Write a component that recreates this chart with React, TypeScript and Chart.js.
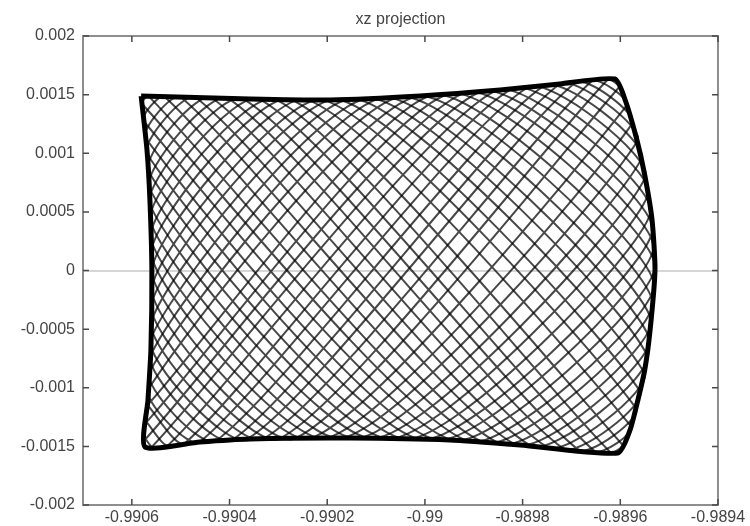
import React, { useEffect, useRef } from "react";
import { Chart, registerables } from "chart.js";

Chart.register(...registerables);

const chartTitle = "xz projection";

const xMin = -0.9907;
const xMax = -0.9894;
const yMin = -0.002;
const yMax = 0.002;

const xTickValues = [-0.9906, -0.9904, -0.9902, -0.99, -0.9898, -0.9896, -0.9894];
const xTickLabels = ["-0.9906", "-0.9904", "-0.9902", "-0.99", "-0.9898", "-0.9896", "-0.9894"];
const yTickValues = [-0.002, -0.0015, -0.001, -0.0005, 0, 0.0005, 0.001, 0.0015, 0.002];
const yTickLabels = ["-0.002", "-0.0015", "-0.001", "-0.0005", "0", "0.0005", "0.001", "0.0015", "0.002"];

// Trajectory turning points (three passes of the orbit)
const orbitAX = [-0.990570, -0.989951, -0.989529, -0.989944, -0.990576, -0.990533, -0.989847, -0.989537, -0.990048, -0.990564, -0.990428, -0.989756, -0.989557, -0.990137, -0.990562, -0.990339, -0.989653, -0.989578, -0.990242, -0.990559, -0.990234, -0.989587, -0.989659, -0.990331, -0.990560, -0.990145, -0.989551, -0.989750, -0.990436, -0.990566, -0.990040, -0.989538, -0.989854, -0.990525, -0.990570];
const orbitAY = [-0.001292, 0.001507, 0.000038, -0.001447, 0.001275, 0.001482, -0.001476, -0.000417, 0.001481, -0.000866, -0.001454, 0.001577, 0.00095, -0.00143, 0.00042, 0.001462, -0.00154, -0.001329, 0.001457, -0.000009, -0.001432, 0.001406, 0.001614, -0.001436, -0.000439, 0.001464, -0.000873, -0.001507, 0.001471, 0.000847, -0.001438, 0.000494, 0.001537, -0.001487, -0.001292];

const orbitBX = [-0.990568, -0.989984, -0.989531, -0.989911, -0.990579, -0.990566, -0.989880, -0.989534, -0.990015, -0.990566, -0.990461, -0.989789, -0.989549, -0.990105, -0.990563, -0.990372, -0.989686, -0.989568, -0.990209, -0.990559, -0.990267, -0.989603, -0.989626, -0.990298, -0.990560, -0.990178, -0.989560, -0.989717, -0.990403, -0.990564, -0.990073, -0.989543, -0.989821, -0.990492, -0.990568];
const orbitBY = [-0.001147, 0.001497, -0.000117, -0.001457, 0.00142, 0.001487, -0.001466, -0.000263, 0.001487, -0.001011, -0.001463, 0.001563, 0.000795, -0.001433, 0.000565, 0.001464, -0.001529, -0.001174, 0.001455, -0.000154, -0.001434, 0.001561, 0.001627, -0.001435, -0.000294, 0.001458, -0.001028, -0.001518, 0.001468, 0.000702, -0.001435, 0.000649, 0.001551, -0.001475, -0.001147];

const orbitCX = [-0.990572, -0.989918, -0.989532, -0.989977, -0.990572, -0.990500, -0.989814, -0.989541, -0.990081, -0.990561, -0.990395, -0.989724, -0.989565, -0.990170, -0.990561, -0.990306, -0.989620, -0.989596, -0.990275, -0.990560, -0.990201, -0.989576, -0.989692, -0.990364, -0.990561, -0.990112, -0.989546, -0.989783, -0.990469, -0.990569, -0.990008, -0.989534, -0.989886, -0.990558, -0.990572];
const orbitCY = [-0.001437, 0.001517, 0.000194, -0.001443, 0.001129, 0.001479, -0.001486, -0.000572, 0.001475, -0.000721, -0.001447, 0.001591, 0.001104, -0.00143, 0.000274, 0.00146, -0.001551, -0.001484, 0.001458, 0.000137, -0.00143, 0.00125, 0.001603, -0.001439, -0.000584, 0.001469, -0.000718, -0.001496, 0.001475, 0.000993, -0.001441, 0.000339, 0.001527, -0.0015, -0.001437];

// Outer envelope of the orbit (dense dark border)
const envX = [-0.990581, -0.990358, -0.990194, -0.990010, -0.989846, -0.989724, -0.989611, -0.989590, -0.989566, -0.989550, -0.989535, -0.989529, -0.989539, -0.989550, -0.989564, -0.989580, -0.989605, -0.989805, -0.989949, -0.990153, -0.990358, -0.990461, -0.990573, -0.990567, -0.990561, -0.990559, -0.990563, -0.990569, -0.990581];
const envY = [0.001488, 0.001463, 0.001454, 0.001488, 0.001539, 0.001591, 0.001633, 0.001454, 0.001113, 0.000814, 0.000431, 0.000004, -0.000508, -0.000849, -0.001105, -0.00136, -0.001557, -0.001488, -0.001446, -0.001429, -0.001437, -0.001463, -0.001505, -0.001105, -0.000678, 0.000004, 0.000601, 0.001028, 0.001488];

const FONT = "'Liberation Sans', Arial, Helvetica, sans-serif";

const toPoints = (xs: number[], ys: number[]) => xs.map((x, i) => ({ x, y: ys[i] }));

const framePlugin = {
  id: "frameTicks",
  afterDatasetsDraw(chart: any) {
    const { ctx, chartArea } = chart;
    const { left, right, top, bottom } = chartArea;
    const xs = chart.scales.x;
    const ys = chart.scales.y;
    ctx.save();
    ctx.strokeStyle = "#8e8e8e";
    ctx.lineWidth = 2;
    ctx.strokeRect(left, top, right - left, bottom - top);
    ctx.strokeStyle = "#4a4a4a";
    ctx.lineWidth = 1.5;
    ctx.beginPath();
    xTickValues.forEach((v) => {
      const px = xs.getPixelForValue(v);
      ctx.moveTo(px, bottom);
      ctx.lineTo(px, bottom - 6);
      ctx.moveTo(px, top);
      ctx.lineTo(px, top + 6);
    });
    yTickValues.forEach((v) => {
      const py = ys.getPixelForValue(v);
      ctx.moveTo(left, py);
      ctx.lineTo(left + 6, py);
      ctx.moveTo(right, py);
      ctx.lineTo(right - 6, py);
    });
    ctx.stroke();
    ctx.restore();
  },
};

export default function App() {
  const ref = useRef<HTMLCanvasElement | null>(null);

  useEffect(() => {
    const canvas = ref.current;
    if (!canvas) return;
    const orbitStyle = {
      showLine: true,
      pointRadius: 0,
      borderColor: "rgba(0,0,0,0.72)",
      borderWidth: 2,
      tension: 0.2,
      fill: false,
    };
    const chart = new Chart(canvas, {
      type: "scatter",
      data: {
        datasets: [
          { label: "orbit pass 1", data: toPoints(orbitAX, orbitAY), ...orbitStyle },
          { label: "orbit pass 2", data: toPoints(orbitBX, orbitBY), ...orbitStyle },
          { label: "orbit pass 3", data: toPoints(orbitCX, orbitCY), ...orbitStyle },
          {
            label: "envelope",
            data: toPoints(envX, envY),
            showLine: true,
            pointRadius: 0,
            borderColor: "#000",
            borderWidth: 5,
            tension: 0.2,
            fill: false,
          },
        ],
      },
      options: {
        animation: false,
        responsive: true,
        maintainAspectRatio: false,
        layout: { padding: { left: 0, right: 32, top: 0, bottom: 0 } },
        plugins: {
          legend: { display: false },
          tooltip: { enabled: false },
          title: {
            display: true,
            text: chartTitle,
            fullSize: false,
            color: "#444",
            font: { size: 16, family: FONT, weight: "normal" },
            padding: { top: 10, bottom: 6.8 },
          },
        },
        scales: {
          x: {
            type: "linear",
            min: xMin,
            max: xMax,
            afterBuildTicks: (s: any) => {
              s.ticks = xTickValues.map((value) => ({ value }));
            },
            afterFit: (s: any) => {
              s.height = 21;
            },
            grid: { display: false, drawTicks: false },
            border: { display: false },
            ticks: {
              autoSkip: false,
              maxRotation: 0,
              padding: 3,
              color: "#444",
              font: { size: 16, family: FONT },
              callback: (_v: any, i: number) => xTickLabels[i],
            },
          },
          y: {
            type: "linear",
            min: yMin,
            max: yMax,
            afterBuildTicks: (s: any) => {
              s.ticks = yTickValues.map((value) => ({ value }));
            },
            afterFit: (s: any) => {
              s.width = 83;
            },
            grid: {
              drawTicks: false,
              lineWidth: 2,
              color: (c: any) => (c.tick && c.tick.value === 0 ? "#d6d6d6" : "rgba(0,0,0,0)"),
            },
            border: { display: false },
            ticks: {
              autoSkip: false,
              padding: 8,
              color: "#444",
              font: { size: 16, family: FONT },
              callback: (_v: any, i: number) => yTickLabels[i],
            },
          },
        },
      },
      plugins: [framePlugin],
    } as any);
    return () => chart.destroy();
  }, []);

  return (
    <div style={{ position: "fixed", left: 0, top: 0, width: 750, height: 526, background: "#fff" }}>
      <canvas ref={ref} style={{ filter: "blur(0.6px)" }} />
    </div>
  );
}
